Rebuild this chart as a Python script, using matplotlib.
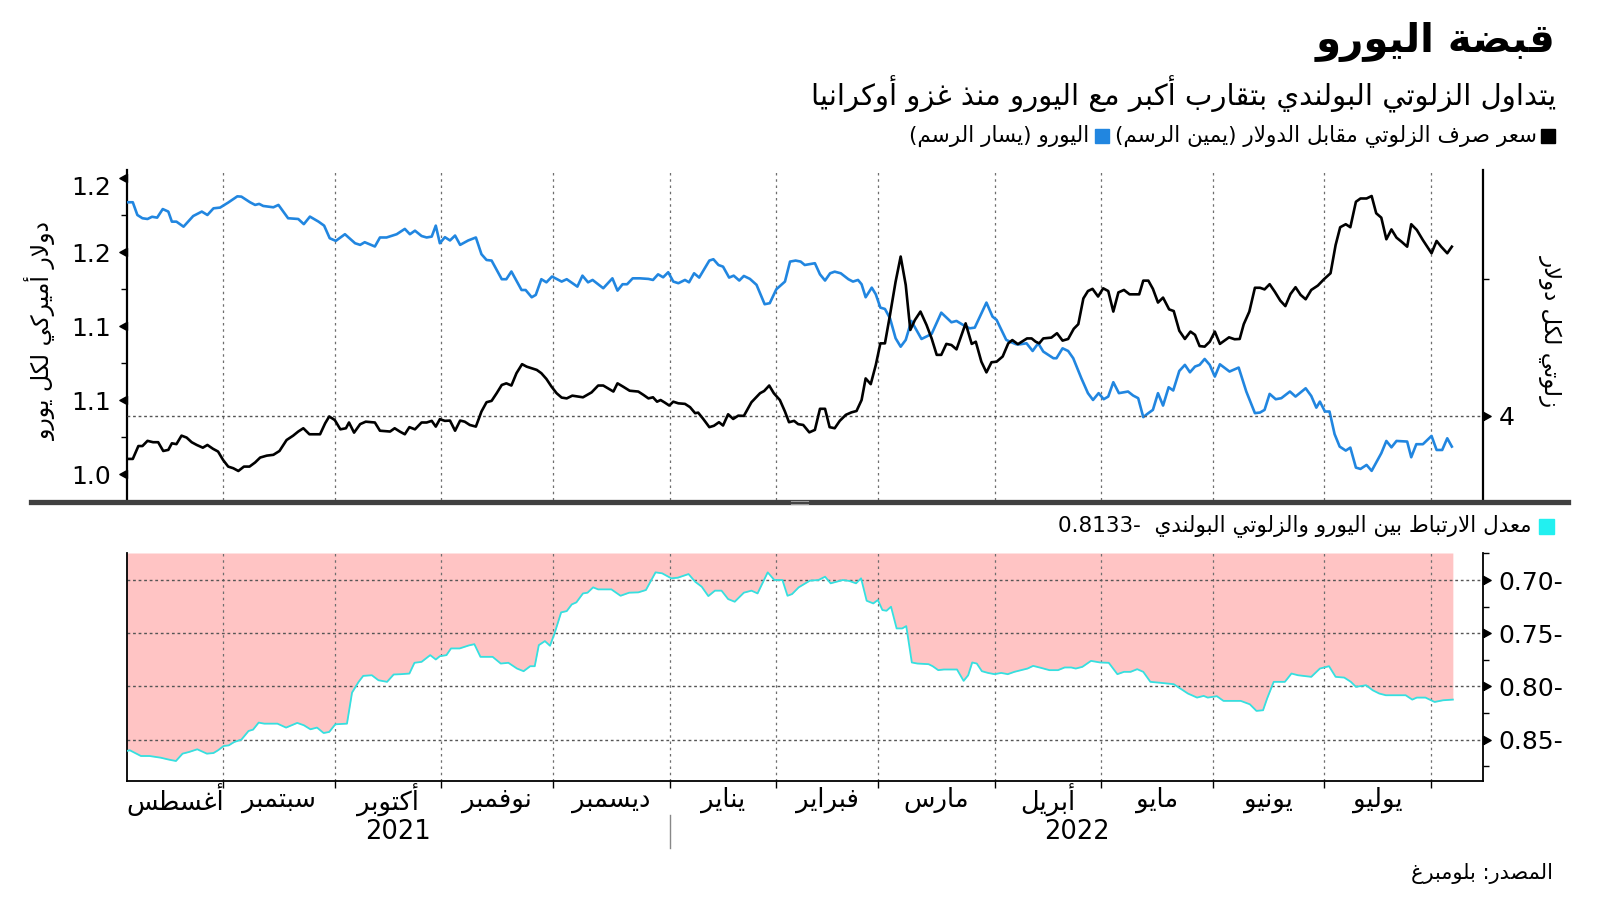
import numpy as np
import pandas as pd
import matplotlib
matplotlib.use("Agg")
import matplotlib.pyplot as plt
from matplotlib.transforms import blended_transform_factory, ScaledTranslation
from matplotlib.lines import Line2D
from matplotlib.patches import Rectangle

plt.rcParams['font.family'] = ['DejaVu Sans']

# ---------------------------------------------------------------- data
# x = trading day counted from 5 Aug 2021
eur_points = [
    (0, 1.1838), (1.2, 1.1838), (2.1, 1.1752), (3.1, 1.1730), (4.1, 1.1725), (5.0, 1.1740),
    (6.0, 1.1734), (7.1, 1.1792), (8.2, 1.1775), (8.9, 1.1707), (9.8, 1.1707), (11.2, 1.1673),
    (12.1, 1.1707), (13.1, 1.1745), (14.8, 1.1775), (15.9, 1.1752), (17.1, 1.1797), (18.4, 1.1802),
    (20.0, 1.1836), (21.8, 1.1878), (22.6, 1.1876), (24.3, 1.1838), (25.3, 1.1820), (26.1, 1.1827),
    (26.9, 1.1813), (28.9, 1.1804), (29.9, 1.1820), (31.8, 1.1730), (33.8, 1.1725), (34.9, 1.1690),
    (36.1, 1.1741), (37.8, 1.1707), (38.9, 1.1680), (40.0, 1.1595), (41.2, 1.1577), (43.0, 1.1622),
    (45.0, 1.1561), (46.0, 1.1550), (46.9, 1.1568), (48.9, 1.1539), (49.9, 1.1600), (51.2, 1.1600),
    (53.2, 1.1622), (54.8, 1.1658), (55.8, 1.1622), (56.8, 1.1646), (58.1, 1.1610), (59.1, 1.1600),
    (60.1, 1.1606), (60.9, 1.1680), (61.7, 1.1561), (62.7, 1.1602), (63.7, 1.1580), (64.7, 1.1613),
    (65.7, 1.1550), (67.3, 1.1580), (68.8, 1.1600), (69.9, 1.1487), (70.9, 1.1448), (71.9, 1.1444),
    (73.9, 1.1318), (74.8, 1.1318), (75.8, 1.1370), (77.8, 1.1245), (78.6, 1.1245), (79.8, 1.1196),
    (80.6, 1.1212), (81.7, 1.1318), (82.7, 1.1297), (83.8, 1.1336), (85.7, 1.1302), (86.7, 1.1318),
    (88.8, 1.1268), (89.8, 1.1342), (90.9, 1.1297), (91.8, 1.1313), (93.9, 1.1257), (95.7, 1.1324),
    (96.7, 1.1241), (97.7, 1.1284), (98.6, 1.1284), (99.7, 1.1324), (101.1, 1.1324), (102.8, 1.1320),
    (103.7, 1.1313), (104.7, 1.1351), (105.7, 1.1331), (106.7, 1.1365), (107.7, 1.1302), (108.7, 1.1291),
    (110.0, 1.1313), (110.8, 1.1297), (111.8, 1.1358), (112.8, 1.1329), (114.8, 1.1444), (115.6, 1.1453),
    (116.6, 1.1414), (117.5, 1.1403), (118.7, 1.1329), (119.6, 1.1342), (120.7, 1.1309), (121.6, 1.1340),
    (122.8, 1.1320), (124.1, 1.1280), (125.7, 1.1149), (126.7, 1.1156), (128.0, 1.1250), (129.7, 1.1302),
    (130.7, 1.1437), (131.8, 1.1444), (132.8, 1.1437), (133.6, 1.1414), (135.6, 1.1426), (136.6, 1.1351),
    (137.6, 1.1309), (138.6, 1.1358), (139.5, 1.1369), (140.7, 1.1358), (142.2, 1.1318), (143.1, 1.1302),
    (144.1, 1.1313), (144.8, 1.1284), (145.6, 1.1196), (146.8, 1.1261), (147.6, 1.1216), (148.5, 1.1126),
    (149.4, 1.1117), (150.4, 1.1054), (151.5, 1.0919), (152.5, 1.0862), (153.5, 1.0908), (154.6, 1.1036),
    (155.6, 1.0975), (156.6, 1.0914), (158.6, 1.0948), (160.5, 1.1092), (162.5, 1.1027), (163.5, 1.1036),
    (164.8, 1.1009), (166.1, 1.0986), (167.1, 1.0991), (169.4, 1.1160), (170.6, 1.1065), (171.4, 1.1043),
    (173.3, 1.0908), (174.3, 1.0892), (175.3, 1.0878), (176.0, 1.0878), (177.3, 1.0885), (178.5, 1.0833),
    (179.6, 1.0885), (180.6, 1.0829), (182.6, 1.0784), (183.2, 1.0784), (184.4, 1.0851), (185.5, 1.0833),
    (186.5, 1.0784), (188.1, 1.0649), (189.4, 1.0548), (190.4, 1.0502), (191.5, 1.0548), (192.5, 1.0507),
    (193.4, 1.0525), (194.4, 1.0622), (195.5, 1.0548), (197.3, 1.0559), (198.3, 1.0532), (199.3, 1.0514),
    (200.3, 1.0386), (201.3, 1.0413), (202.2, 1.0435), (203.2, 1.0548), (204.2, 1.0464), (205.3, 1.0588),
    (206.2, 1.0566), (207.4, 1.0698), (208.5, 1.0739), (209.5, 1.0689), (210.5, 1.0728), (211.4, 1.0739),
    (212.4, 1.0779), (213.4, 1.0739), (214.4, 1.0660), (215.4, 1.0743), (217.3, 1.0694), (219.1, 1.0721),
    (220.6, 1.0559), (222.3, 1.0413), (223.3, 1.0417), (224.2, 1.0435), (225.2, 1.0543), (226.4, 1.0507),
    (227.5, 1.0514), (229.2, 1.0559), (230.3, 1.0525), (232.3, 1.0581), (233.4, 1.0529), (234.4, 1.0450),
    (235.1, 1.0491), (236.1, 1.0424), (237.0, 1.0424), (238.0, 1.0271), (239.0, 1.0187), (240.2, 1.0160),
    (241.1, 1.0180), (242.2, 1.0045), (243.1, 1.0036), (244.3, 1.0063), (245.3, 1.0023), (246.2, 1.0079),
    (247.2, 1.0142), (248.2, 1.0225), (249.2, 1.0182), (250.2, 1.0225), (252.3, 1.0221), (253.1, 1.0115),
    (254.1, 1.0203), (255.4, 1.0203), (257.1, 1.0259), (258.1, 1.0164), (259.2, 1.0164), (260.2, 1.0243),
    (261.1, 1.0187),
]

pln_points = [
    (0, 3.843), (1.2, 3.843), (2.3, 3.890), (3.1, 3.890), (4.1, 3.909), (5.2, 3.904), (6.2, 3.904),
    (7.2, 3.872), (8.2, 3.876), (8.9, 3.900), (9.8, 3.897), (10.8, 3.928), (11.8, 3.921), (12.8, 3.904),
    (13.8, 3.894), (15.0, 3.884), (15.9, 3.894), (17.0, 3.880), (18.0, 3.870), (19.0, 3.839), (20.0, 3.815),
    (21.0, 3.809), (22.0, 3.799), (23.1, 3.815), (24.2, 3.815), (25.3, 3.830), (26.3, 3.848), (27.6, 3.855),
    (28.9, 3.858), (30.1, 3.872), (31.5, 3.912), (32.8, 3.928), (33.8, 3.943), (34.8, 3.955), (36.0, 3.933),
    (38.1, 3.933), (39.1, 3.973), (39.9, 3.998), (41.0, 3.985), (42.1, 3.951), (43.2, 3.955), (43.8, 3.976),
    (44.8, 3.939), (46.0, 3.970), (47.1, 3.979), (48.9, 3.976), (49.9, 3.946), (51.9, 3.943), (52.8, 3.955),
    (53.8, 3.943), (54.8, 3.933), (55.7, 3.959), (56.8, 3.951), (58.1, 3.976), (59.1, 3.976), (60.1, 3.982),
    (60.9, 3.961), (61.7, 3.988), (62.7, 3.982), (63.7, 3.983), (64.7, 3.946), (65.7, 3.983), (66.6, 3.979),
    (67.6, 3.967), (68.8, 3.961), (69.9, 4.016), (70.9, 4.050), (71.9, 4.055), (72.9, 4.083), (73.9, 4.113),
    (74.8, 4.119), (75.8, 4.111), (76.8, 4.156), (77.9, 4.189), (78.8, 4.180), (80.8, 4.168), (81.7, 4.156),
    (82.7, 4.135), (83.7, 4.107), (84.7, 4.083), (85.7, 4.067), (86.7, 4.064), (87.8, 4.074), (89.9, 4.068),
    (91.6, 4.086), (92.9, 4.111), (93.9, 4.111), (95.9, 4.089), (96.7, 4.119), (97.8, 4.107), (99.1, 4.092),
    (100.8, 4.089), (101.8, 4.077), (102.8, 4.064), (103.7, 4.068), (104.5, 4.052), (105.2, 4.058),
    (106.0, 4.049), (106.9, 4.038), (107.7, 4.052), (108.7, 4.046), (110.0, 4.044), (111.0, 4.032),
    (112.0, 4.010), (112.6, 4.012), (113.6, 3.989), (114.8, 3.959), (115.7, 3.964), (116.7, 3.977),
    (117.5, 3.965), (118.5, 4.006), (119.5, 3.989), (120.5, 4.001), (121.6, 4.000), (123.1, 4.050),
    (124.8, 4.083), (125.6, 4.091), (126.6, 4.111), (127.5, 4.083), (128.7, 4.058), (129.7, 4.016),
    (130.5, 3.977), (131.5, 3.982), (132.3, 3.970), (133.3, 3.967), (134.5, 3.940), (135.6, 3.949),
    (136.6, 4.026), (137.6, 4.026), (138.5, 3.959), (139.5, 3.955), (140.5, 3.982), (141.7, 4.004),
    (142.8, 4.013), (143.8, 4.018), (144.8, 4.058), (145.6, 4.137), (146.6, 4.116), (147.6, 4.186),
    (148.5, 4.265), (149.4, 4.265), (150.4, 4.369), (151.5, 4.490), (152.5, 4.582), (153.5, 4.478),
    (154.4, 4.314), (155.3, 4.350), (156.4, 4.381), (157.6, 4.332), (158.6, 4.283), (159.6, 4.223),
    (160.5, 4.223), (161.5, 4.263), (162.5, 4.259), (163.5, 4.243), (164.5, 4.296), (165.3, 4.338),
    (166.5, 4.263), (167.3, 4.271), (168.4, 4.198), (169.4, 4.159), (170.4, 4.196), (171.4, 4.198),
    (172.6, 4.217), (173.7, 4.265), (174.5, 4.277), (175.6, 4.262), (177.4, 4.283), (178.3, 4.283),
    (179.1, 4.271), (179.8, 4.265), (180.6, 4.283), (182.2, 4.286), (183.3, 4.302), (184.4, 4.275),
    (185.5, 4.281), (186.6, 4.318), (187.5, 4.335), (188.5, 4.429), (189.4, 4.456), (190.3, 4.464),
    (191.4, 4.436), (192.4, 4.466), (193.4, 4.456), (194.4, 4.381), (195.4, 4.451), (196.5, 4.460),
    (197.6, 4.444), (199.5, 4.444), (200.3, 4.494), (201.3, 4.494), (202.2, 4.464), (203.2, 4.414),
    (204.2, 4.432), (205.4, 4.389), (206.3, 4.383), (207.4, 4.311), (208.5, 4.281), (209.6, 4.308),
    (210.5, 4.296), (211.4, 4.255), (212.4, 4.253), (213.4, 4.271), (214.4, 4.308), (215.4, 4.263),
    (217.2, 4.287), (218.3, 4.280), (219.3, 4.281), (220.1, 4.335), (221.2, 4.381), (222.3, 4.468),
    (223.3, 4.468), (224.2, 4.462), (225.2, 4.481), (226.2, 4.454), (227.3, 4.421), (228.3, 4.401),
    (229.3, 4.445), (230.3, 4.470), (231.3, 4.442), (232.3, 4.426), (233.4, 4.460), (234.7, 4.476),
    (235.9, 4.499), (237.2, 4.521), (238.2, 4.624), (239.1, 4.689), (240.2, 4.700), (241.1, 4.689),
    (242.2, 4.782), (243.1, 4.794), (244.3, 4.794), (245.3, 4.803), (246.2, 4.740), (247.2, 4.724),
    (248.2, 4.645), (249.2, 4.681), (250.2, 4.651), (251.2, 4.636), (252.3, 4.618), (253.1, 4.700),
    (254.2, 4.679), (255.4, 4.642), (257.1, 4.594), (258.1, 4.639), (259.0, 4.618), (260.2, 4.594),
    (261.1, 4.618),
]

corr_points = [
    (0, -0.8607), (0.6, -0.8600), (2.8, -0.8654), (4.5, -0.8654), (6.7, -0.8670), (8.4, -0.8689),
    (9.7, -0.8701), (11.0, -0.8632), (12.3, -0.8616), (13.9, -0.8591), (15.8, -0.8632), (17.1, -0.8626),
    (18.0, -0.8600), (19.1, -0.8560), (20.1, -0.8554), (21.2, -0.8522), (22.6, -0.8500), (24.0, -0.8419),
    (24.9, -0.8406), (26.0, -0.8340), (27.1, -0.8350), (29.7, -0.8350), (31.4, -0.8387), (33.6, -0.8343),
    (34.9, -0.8365), (36.2, -0.8403), (37.5, -0.8387), (38.8, -0.8438), (39.9, -0.8428), (41.1, -0.8356),
    (43.4, -0.8350), (44.4, -0.8058), (45.7, -0.7957), (46.6, -0.7901), (48.3, -0.7895), (49.6, -0.7942),
    (51.3, -0.7957), (52.6, -0.7888), (54.0, -0.7885), (55.7, -0.7879), (56.7, -0.7778), (58.1, -0.7769),
    (59.8, -0.7706), (60.9, -0.7747), (61.7, -0.7716), (63.0, -0.7706), (63.9, -0.7643), (65.6, -0.7643),
    (67.4, -0.7615), (68.5, -0.7603), (69.7, -0.7722), (72.1, -0.7722), (73.7, -0.7785), (75.2, -0.7778),
    (76.9, -0.7832), (78.2, -0.7857), (79.5, -0.7810), (80.4, -0.7810), (81.2, -0.7612), (82.4, -0.7574),
    (83.4, -0.7618), (84.3, -0.7502), (85.6, -0.7304), (86.7, -0.7292), (87.7, -0.7229), (88.6, -0.7210),
    (89.9, -0.7126), (90.8, -0.7119), (91.9, -0.7069), (92.9, -0.7088), (95.5, -0.7088), (97.3, -0.7148),
    (99.0, -0.7119), (100.8, -0.7116), (102.3, -0.7094), (104.2, -0.6928), (105.5, -0.6937), (107.3, -0.6984),
    (108.6, -0.6978), (110.7, -0.6944), (112.0, -0.7016), (113.3, -0.7063), (114.6, -0.7151), (115.9, -0.7100),
    (117.2, -0.7100), (118.5, -0.7179), (119.8, -0.7204), (121.6, -0.7119), (123.1, -0.7100), (124.3, -0.7126),
    (126.3, -0.6928), (127.6, -0.7000), (129.2, -0.7000), (130.2, -0.7148), (131.1, -0.7132), (132.4, -0.7069),
    (134.6, -0.7006), (136.3, -0.7000), (137.6, -0.6969), (138.7, -0.7031), (141.1, -0.7000), (142.4, -0.7009),
    (143.7, -0.7031), (144.7, -0.6984), (145.8, -0.7195), (147.1, -0.7220), (148.0, -0.7188), (148.9, -0.7282),
    (149.7, -0.7289), (150.6, -0.7251), (151.7, -0.7455), (152.8, -0.7455), (153.6, -0.7433), (154.7, -0.7775),
    (155.8, -0.7785), (158.0, -0.7791), (158.8, -0.7810), (159.9, -0.7847), (161.0, -0.7841), (163.6, -0.7841),
    (164.9, -0.7948), (165.8, -0.7895), (166.6, -0.7775), (167.5, -0.7785), (168.5, -0.7857), (169.7, -0.7873),
    (171.0, -0.7885), (172.3, -0.7873), (173.6, -0.7885), (174.9, -0.7863), (176.2, -0.7847), (177.5, -0.7832),
    (178.6, -0.7807), (180.1, -0.7825), (181.8, -0.7847), (183.5, -0.7847), (184.8, -0.7822), (186.1, -0.7822),
    (187.0, -0.7832), (188.3, -0.7816), (190.0, -0.7760), (191.8, -0.7775), (193.5, -0.7778), (195.2, -0.7885),
    (196.5, -0.7863), (197.8, -0.7863), (199.1, -0.7838), (200.3, -0.7863), (201.7, -0.7957), (203.9, -0.7967),
    (206.3, -0.7979), (207.6, -0.8020), (209.1, -0.8067), (210.9, -0.8105), (212.2, -0.8089), (213.0, -0.8105),
    (214.8, -0.8092), (216.1, -0.8136), (219.5, -0.8136), (221.3, -0.8168), (222.6, -0.8230), (223.9, -0.8224),
    (224.7, -0.8114), (226.0, -0.7957), (228.2, -0.7957), (229.5, -0.7879), (230.8, -0.7895), (233.4, -0.7910),
    (235.1, -0.7832), (236.9, -0.7810), (238.2, -0.7910), (239.9, -0.7917), (241.2, -0.7957), (242.2, -0.8004),
    (244.2, -0.7989), (245.5, -0.8036), (246.8, -0.8067), (248.1, -0.8083), (252.0, -0.8083), (253.3, -0.8124),
    (254.2, -0.8105), (255.9, -0.8105), (257.7, -0.8146), (259.4, -0.8130), (261.3, -0.8124),
]

month_names = ['أغسطس', 'سبتمبر', 'أكتوبر', 'نوفمبر', 'ديسمبر', 'يناير',
               'فبراير', 'مارس', 'أبريل', 'مايو', 'يونيو', 'يوليو']
eur_ticks = [1.00, 1.05, 1.10, 1.15, 1.20]
eur_tick_labels = ['1.0', '1.1', '1.1', '1.2', '1.2']
corr_ticks = [-0.70, -0.75, -0.80, -0.85]
corr_tick_labels = ['0.70-', '0.75-', '0.80-', '0.85-']
last_corr = '0.8133-'

title = 'قبضة اليورو'
subtitle = 'يتداول الزلوتي البولندي بتقارب أكبر مع اليورو منذ غزو أوكرانيا'
legend_pln = 'سعر صرف الزلوتي مقابل الدولار (يمين الرسم)'
legend_eur = 'اليورو (يسار الرسم)'
legend_corr = 'معدل الارتباط بين اليورو والزلوتي البولندي'
ylabel_left = 'دولار أميركي لكل يورو'
ylabel_right = 'زلوتي لكل دولار'
source = 'المصدر: بلومبرغ'

# ---------------------------------------------------------------- arabic shaping
# matplotlib has no bidi/shaping, so pick presentation forms by hand
FORMS = {
    'ء': ('\uFE80', None, None, None), 'آ': ('\uFE81', '\uFE82', None, None),
    'أ': ('\uFE83', '\uFE84', None, None), 'ؤ': ('\uFE85', '\uFE86', None, None),
    'إ': ('\uFE87', '\uFE88', None, None), 'ئ': ('\uFE89', '\uFE8A', '\uFE8B', '\uFE8C'),
    'ا': ('\uFE8D', '\uFE8E', None, None), 'ب': ('\uFE8F', '\uFE90', '\uFE91', '\uFE92'),
    'ة': ('\uFE93', '\uFE94', None, None), 'ت': ('\uFE95', '\uFE96', '\uFE97', '\uFE98'),
    'ث': ('\uFE99', '\uFE9A', '\uFE9B', '\uFE9C'), 'ج': ('\uFE9D', '\uFE9E', '\uFE9F', '\uFEA0'),
    'ح': ('\uFEA1', '\uFEA2', '\uFEA3', '\uFEA4'), 'خ': ('\uFEA5', '\uFEA6', '\uFEA7', '\uFEA8'),
    'د': ('\uFEA9', '\uFEAA', None, None), 'ذ': ('\uFEAB', '\uFEAC', None, None),
    'ر': ('\uFEAD', '\uFEAE', None, None), 'ز': ('\uFEAF', '\uFEB0', None, None),
    'س': ('\uFEB1', '\uFEB2', '\uFEB3', '\uFEB4'), 'ش': ('\uFEB5', '\uFEB6', '\uFEB7', '\uFEB8'),
    'ص': ('\uFEB9', '\uFEBA', '\uFEBB', '\uFEBC'), 'ض': ('\uFEBD', '\uFEBE', '\uFEBF', '\uFEC0'),
    'ط': ('\uFEC1', '\uFEC2', '\uFEC3', '\uFEC4'), 'ظ': ('\uFEC5', '\uFEC6', '\uFEC7', '\uFEC8'),
    'ع': ('\uFEC9', '\uFECA', '\uFECB', '\uFECC'), 'غ': ('\uFECD', '\uFECE', '\uFECF', '\uFED0'),
    'ف': ('\uFED1', '\uFED2', '\uFED3', '\uFED4'), 'ق': ('\uFED5', '\uFED6', '\uFED7', '\uFED8'),
    'ك': ('\uFED9', '\uFEDA', '\uFEDB', '\uFEDC'), 'ل': ('\uFEDD', '\uFEDE', '\uFEDF', '\uFEE0'),
    'م': ('\uFEE1', '\uFEE2', '\uFEE3', '\uFEE4'), 'ن': ('\uFEE5', '\uFEE6', '\uFEE7', '\uFEE8'),
    'ه': ('\uFEE9', '\uFEEA', '\uFEEB', '\uFEEC'), 'و': ('\uFEED', '\uFEEE', None, None),
    'ى': ('\uFEEF', '\uFEF0', None, None), 'ي': ('\uFEF1', '\uFEF2', '\uFEF3', '\uFEF4'),
}
LAM_ALEF = {'ا': ('\uFEFB', '\uFEFC'), 'أ': ('\uFEF7', '\uFEF8'),
            'إ': ('\uFEF9', '\uFEFA'), 'آ': ('\uFEF5', '\uFEF6')}


def shape(text):
    toks = []
    i = 0
    while i < len(text):
        if text[i] == 'ل' and i + 1 < len(text) and text[i + 1] in LAM_ALEF:
            toks.append(('LA', text[i + 1]))
            i += 2
        else:
            toks.append(('C', text[i]))
            i += 1

    def joins_next(t):
        return t[0] == 'C' and t[1] in FORMS and FORMS[t[1]][2] is not None

    def is_letter(t):
        return t[0] == 'LA' or t[1] in FORMS

    out = []
    for k, t in enumerate(toks):
        prev_j = k > 0 and joins_next(toks[k - 1])
        if t[0] == 'LA':
            out.append(LAM_ALEF[t[1]][1 if prev_j else 0])
            continue
        c = t[1]
        if c not in FORMS:
            out.append(c)
            continue
        f = FORMS[c]
        next_j = f[2] is not None and k + 1 < len(toks) and is_letter(toks[k + 1])
        if prev_j and f[1] is None:
            prev_j = False
        if prev_j and next_j:
            out.append(f[3])
        elif prev_j:
            out.append(f[1])
        elif next_j:
            out.append(f[2])
        else:
            out.append(f[0])
    return ''.join(out)


def ar(text):
    s = shape(text)[::-1]
    return s.translate(str.maketrans('()', ')('))


# ---------------------------------------------------------------- figure
W, H = 1600, 901
fig = plt.figure(figsize=(16, 9.01), dpi=100)


def fx(px):
    return px / W


def fy(py):
    return 1 - py / H


ax = fig.add_axes([fx(126.7), fy(500), fx(1483.3) - fx(126.7), fy(170) - fy(500)])
axr = ax.twinx()
ax2 = fig.add_axes([fx(126.7), fy(781), fx(1483.3) - fx(126.7), fy(553) - fy(781)])

days = pd.bdate_range('2021-08-05', '2022-08-31')
day_no = pd.Series(np.arange(len(days)), index=days)
first_days = day_no.groupby(days.to_period('M')).first()
month_starts = list(first_days.values[1:13])          # Sep 2021 ... Aug 2022
year_start = int(first_days[pd.Period('2022-01', 'M')])
xmax = 267.3

eur_x, eur_y = zip(*eur_points)
pln_x, pln_y = zip(*pln_points)
corr_x, corr_y = zip(*corr_points)

blue = '#2186E0'
grid_kw = dict(color='#6e6e6e', lw=0.9, ls=(0, (2, 3)))

tri_left = [(0, -0.55), (-1, 0), (0, 0.55), (0, -0.55)]
tri_right = [(0, -0.55), (1, 0), (0, 0.55), (0, -0.55)]

# --- top panel
for a in (ax, axr):
    a.set_xlim(0, xmax)
    for s in ('top', 'bottom'):
        a.spines[s].set_visible(False)
ax.set_ylim(0.9826, 1.2056)
axr.set_ylim(3.693, 4.898)
ax.spines['left'].set_linewidth(1.6)
axr.spines['right'].set_linewidth(1.6)
ax.spines['right'].set_visible(False)
axr.spines['left'].set_visible(False)

for m in month_starts:
    ax.axvline(m, **grid_kw, zorder=1)
axr.axhline(4, color='#555555', lw=1.0, ls=(0, (2, 2)), zorder=1)

ax.plot(eur_x, eur_y, color=blue, lw=1.9, zorder=3)
axr.plot(pln_x, pln_y, color='black', lw=1.9, zorder=3)

ax.set_xticks([])
ax.set_yticks(eur_ticks)
ax.set_yticklabels(eur_tick_labels, fontsize=18)
ax.set_yticks([1.025, 1.075, 1.125, 1.175], minor=True)
ax.tick_params(axis='y', which='major', length=0, pad=11)
ax.tick_params(axis='y', which='minor', length=4, width=1)
# the top label sits a little below its tick
top_lab = ax.get_yticklabels()[-1]
top_lab.set_transform(top_lab.get_transform() + ScaledTranslation(0, -7 / 100, fig.dpi_scale_trans))
ax.plot(np.zeros(len(eur_ticks)), eur_ticks, ls='none', marker=tri_left, ms=11,
        color='black', transform=ax.get_yaxis_transform(), clip_on=False)

axr.set_yticks([4])
axr.set_yticklabels(['4'], fontsize=18)
axr.set_yticks([4.5], minor=True)
axr.tick_params(axis='y', which='major', length=0, pad=11)
axr.tick_params(axis='y', which='minor', length=4, width=1)
axr.plot([1], [4], ls='none', marker=tri_right, ms=11, color='black',
         transform=axr.get_yaxis_transform(), clip_on=False)

# --- bottom panel
ax2.set_xlim(0, xmax)
ax2.set_ylim(-0.8889, -0.6746)
ax2.fill_between(corr_x, corr_y, -0.6746, color='#FFC4C4', lw=0, zorder=1)
for m in month_starts:
    ax2.axvline(m, **grid_kw, zorder=2)
for t in corr_ticks:
    ax2.axhline(t, color='#555555', lw=1.0, ls=(0, (2, 2)), zorder=2)
ax2.plot(corr_x, corr_y, color='#35E0E0', lw=1.3, zorder=3)
ax2.spines['top'].set_visible(False)
for s in ('left', 'bottom', 'right'):
    ax2.spines[s].set_linewidth(1.3)
ax2.yaxis.tick_right()
ax2.set_yticks(corr_ticks)
ax2.set_yticklabels(corr_tick_labels, fontsize=18)
ax2.set_yticks([-0.675, -0.725, -0.775, -0.825, -0.875], minor=True)
ax2.tick_params(axis='y', which='major', length=0, pad=11)
ax2.tick_params(axis='y', which='minor', length=4, width=1)
ax2.plot(np.ones(len(corr_ticks)), corr_ticks, ls='none', marker=tri_right, ms=11,
         color='black', transform=ax2.get_yaxis_transform(), clip_on=False)
ax2.set_xticks(month_starts)
ax2.set_xticklabels([])
ax2.tick_params(axis='x', length=5, width=1)

# month and year labels under the bottom panel
tr = blended_transform_factory(ax2.transData, fig.transFigure)
bounds = [0] + month_starts
for k, name in enumerate(month_names):
    mid = (bounds[k] + bounds[k + 1]) / 2
    fig.text(mid, fy(800), ar(name), transform=tr, ha='center', va='center', fontsize=18.5)
fig.text(year_start / 2, fy(832), '2021', transform=tr, ha='center', va='center', fontsize=18.5)
fig.text((year_start + xmax) / 2, fy(832), '2022', transform=tr, ha='center', va='center', fontsize=18.5)
fig.add_artist(Line2D([year_start, year_start], [fy(815), fy(848)], transform=tr,
                      color='#888888', lw=1))

# separator bar between panels
fig.add_artist(Line2D([fx(31), fx(1568)], [fy(502), fy(502)], color='#404040', lw=3.8))
fig.add_artist(Line2D([fx(791), fx(808)], [fy(501), fy(501)], color='#9a9a9a', lw=0.8))
fig.add_artist(Line2D([fx(791), fx(808)], [fy(503.5), fy(503.5)], color='#9a9a9a', lw=0.8))

# axis titles
fig.text(fx(40), fy(331), ar(ylabel_left), rotation=90, ha='center', va='center', fontsize=17)
fig.text(fx(1551), fy(331), ar(ylabel_right), rotation=-90, ha='center', va='center', fontsize=16.5)

# titles
fig.text(fx(1556), fy(42), ar(title), ha='right', va='center', fontsize=29, fontweight='bold')
fig.text(fx(1556), fy(94), ar(subtitle), ha='right', va='center', fontsize=21)

# legends (squares placed from measured text widths)
renderer = fig.canvas.get_renderer()
ly = 136
fig.add_artist(Rectangle((fx(1541), fy(ly + 7)), fx(14), 14 / H, color='black'))
t1 = fig.text(fx(1537), fy(ly), ar(legend_pln), ha='right', va='center', fontsize=15.5)
left1 = t1.get_window_extent(renderer=renderer).x0
fig.add_artist(Rectangle((fx(left1 - 20), fy(ly + 7)), fx(14), 14 / H, color=blue))
fig.text(fx(left1 - 26), fy(ly), ar(legend_eur), ha='right', va='center', fontsize=15.5)

cy = 526
fig.add_artist(Rectangle((fx(1539), fy(cy + 8)), fx(15), 15 / H, color='#22F0F0'))
fig.text(fx(1531), fy(cy), last_corr + '  ' + ar(legend_corr), ha='right', va='center', fontsize=15.5)

fig.text(fx(1553), fy(874), ar(source), ha='right', va='center', fontsize=15)

fig.savefig('out.png', dpi=100)
